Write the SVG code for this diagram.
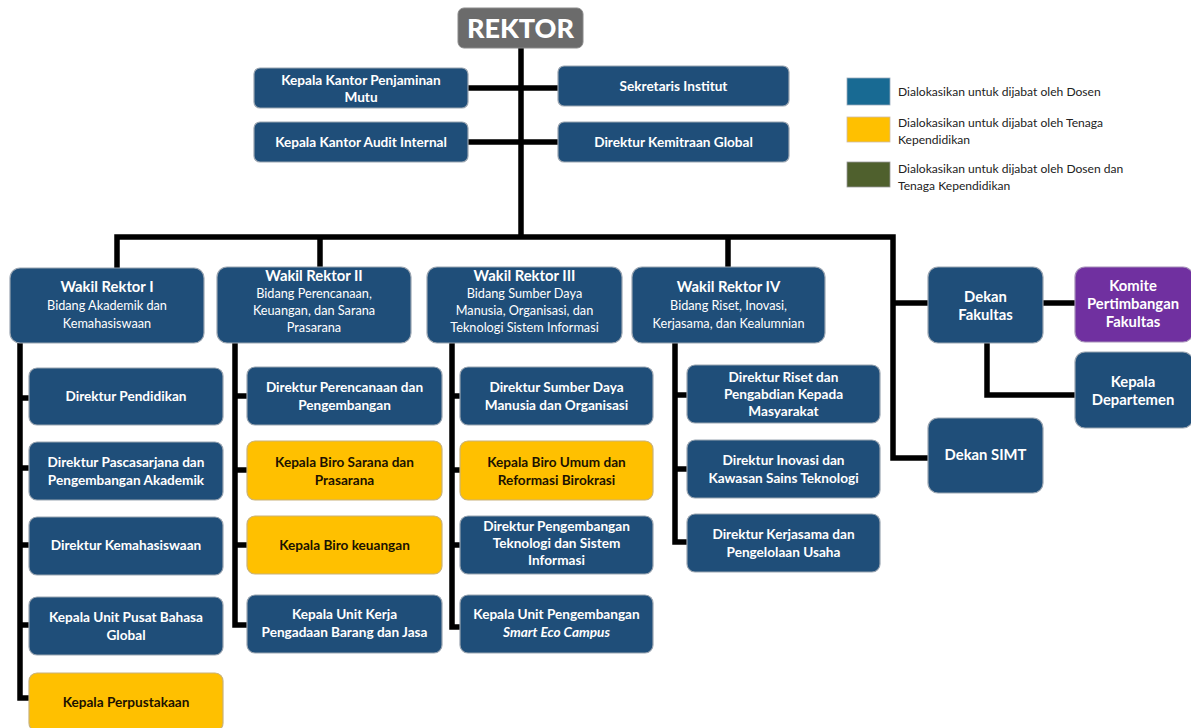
<svg xmlns="http://www.w3.org/2000/svg" width="1191" height="728" viewBox="0 0 1191 728">
<style>
.b{fill:#1F4E79;stroke:#9aa5b1;stroke-width:1.2}
.y{fill:#FFC000;stroke:#c9b27a;stroke-width:1.2}
.p{fill:#7030A0;stroke:#a58fb8;stroke-width:1.2}
.g{fill:#6b6b6b;stroke:#8a8a8a;stroke-width:1}
.t{font-family:Lato,"Open Sans",sans-serif;font-weight:700;font-size:13.6px;fill:#fff;text-anchor:middle}
.td{font-family:Lato,"Open Sans",sans-serif;font-weight:700;font-size:13.6px;fill:#1c1200;text-anchor:middle}
.tl{font-family:Lato,"Open Sans",sans-serif;font-weight:700;font-size:14.8px;fill:#fff;text-anchor:middle}
.ts{font-family:Lato,"Open Sans",sans-serif;font-weight:400;font-size:12.7px;fill:#fff;text-anchor:middle}
.lg{font-family:Lato,"Open Sans",sans-serif;font-weight:400;font-size:12.1px;fill:#222}
.c{fill:none;stroke:#000;stroke-width:5.5;stroke-linejoin:miter}
</style>
<rect width="1191" height="728" fill="#fff"/>
<g id="connectors">
<path class="c" d="M521 48V237"/>
<path class="c" d="M468 88H558M468 142H558"/>
<path class="c" d="M117 268V237H893V458H928M320 237V267M728 237V267M893 303H928"/>
<path class="c" d="M1043 303H1075M987 343V395H1075"/>
<path class="c" d="M20 343V698H29M20 398H29M20 468H29M20 545H29M20 625H29"/>
<path class="c" d="M235 343V625H247M235 396H247M235 470H247M235 545H247"/>
<path class="c" d="M452 343V627H460M452 396H460M452 470H460M452 545H460"/>
<path class="c" d="M675 343V542H687M675 395H687M675 469H687"/>
</g>
<g id="rektor"><rect class="g" x="458" y="8" width="125" height="40" rx="6"/><text x="520.5" y="38" style="font-family:Lato,'Open Sans',sans-serif;font-weight:900;font-size:27px;fill:#fff;text-anchor:middle">REKTOR</text></g>
<g id="kkpm"><rect class="b" x="254" y="68" width="214" height="40" rx="6"/><text class="t" x="361" y="85">Kepala Kantor Penjaminan</text><text class="t" x="361" y="102">Mutu</text></g>
<g id="sekretaris"><rect class="b" x="558" y="66" width="231" height="40" rx="6"/><text class="t" x="673.5" y="91">Sekretaris Institut</text></g>
<g id="audit"><rect class="b" x="254" y="122" width="214" height="40" rx="6"/><text class="t" x="361" y="147">Kepala Kantor Audit Internal</text></g>
<g id="kemitraan"><rect class="b" x="558" y="122" width="231" height="40" rx="6"/><text class="t" x="673.5" y="147">Direktur Kemitraan Global</text></g>
<g id="legend">
<rect x="847" y="78" width="43" height="27" fill="#186A93" stroke="#9ab" stroke-width="0.8"/>
<text class="lg" x="898" y="96">Dialokasikan untuk dijabat oleh Dosen</text>
<rect x="847" y="117" width="43" height="25" fill="#FFC000" stroke="#cba" stroke-width="0.8"/>
<text class="lg" x="898" y="127">Dialokasikan untuk dijabat oleh Tenaga</text>
<text class="lg" x="898" y="144">Kependidikan</text>
<rect x="847" y="162" width="43" height="25" fill="#4F602D" stroke="#999" stroke-width="0.8"/>
<text class="lg" x="898" y="173">Dialokasikan untuk dijabat oleh Dosen dan</text>
<text class="lg" x="898" y="190">Tenaga Kependidikan</text>
</g>
<g id="wr1"><rect class="b" x="10" y="268" width="194" height="75" rx="10"/><text class="tl" x="107" y="292">Wakil Rektor I</text><text class="ts" x="107" y="310">Bidang Akademik dan</text><text class="ts" x="107" y="328">Kemahasiswaan</text></g>
<g id="wr2"><rect class="b" x="217" y="267" width="194" height="76" rx="10"/><text class="tl" x="314" y="281">Wakil Rektor II</text><text class="ts" x="314" y="298">Bidang Perencanaan,</text><text class="ts" x="314" y="315">Keuangan, dan Sarana</text><text class="ts" x="314" y="332">Prasarana</text></g>
<g id="wr3"><rect class="b" x="427" y="267" width="195" height="76" rx="10"/><text class="tl" x="524.5" y="281">Wakil Rektor III</text><text class="ts" x="524.5" y="298">Bidang Sumber Daya</text><text class="ts" x="524.5" y="315">Manusia, Organisasi, dan</text><text class="ts" x="524.5" y="332">Teknologi Sistem Informasi</text></g>
<g id="wr4"><rect class="b" x="632" y="267" width="193" height="76" rx="10"/><text class="tl" x="728.5" y="292">Wakil Rektor IV</text><text class="ts" x="728.5" y="310">Bidang Riset, Inovasi,</text><text class="ts" x="728.5" y="328">Kerjasama, dan Kealumnian</text></g>
<g id="dekan-fakultas"><rect class="b" x="928" y="267" width="115" height="76" rx="10"/><text class="tl" x="985.5" y="302">Dekan</text><text class="tl" x="985.5" y="320">Fakultas</text></g>
<g id="komite"><rect class="p" x="1075" y="267" width="118" height="75" rx="10"/><text class="tl" x="1133" y="291">Komite</text><text class="tl" x="1133" y="309">Pertimbangan</text><text class="tl" x="1133" y="327">Fakultas</text></g>
<g id="kepala-departemen"><rect class="b" x="1075" y="352" width="118" height="76" rx="10"/><text class="tl" x="1133" y="387">Kepala</text><text class="tl" x="1133" y="405">Departemen</text></g>
<g id="dekan-simt"><rect class="b" x="928" y="418" width="115" height="75" rx="10"/><text class="tl" x="985.5" y="460">Dekan SIMT</text></g>
<g id="c1-1"><rect class="b" x="29" y="368" width="194" height="57" rx="8"/><text class="t" x="126" y="401">Direktur Pendidikan</text></g>
<g id="c1-2"><rect class="b" x="29" y="442" width="194" height="58" rx="8"/><text class="t" x="126" y="467">Direktur Pascasarjana dan</text><text class="t" x="126" y="485">Pengembangan Akademik</text></g>
<g id="c1-3"><rect class="b" x="29" y="517" width="194" height="58" rx="8"/><text class="t" x="126" y="550">Direktur Kemahasiswaan</text></g>
<g id="c1-4"><rect class="b" x="29" y="597" width="194" height="58" rx="8"/><text class="t" x="126" y="622">Kepala Unit Pusat Bahasa</text><text class="t" x="126" y="640">Global</text></g>
<g id="c1-5"><rect class="y" x="29" y="673" width="194" height="58" rx="8"/><text class="td" x="126" y="707">Kepala Perpustakaan</text></g>
<g id="c2-1"><rect class="b" x="247" y="367" width="195" height="58" rx="8"/><text class="t" x="344.5" y="392">Direktur Perencanaan dan</text><text class="t" x="344.5" y="410">Pengembangan</text></g>
<g id="c2-2"><rect class="y" x="247" y="441" width="195" height="59" rx="8"/><text class="td" x="344.5" y="467">Kepala Biro Sarana dan</text><text class="td" x="344.5" y="485">Prasarana</text></g>
<g id="c2-3"><rect class="y" x="247" y="516" width="195" height="58" rx="8"/><text class="td" x="344.5" y="550">Kepala Biro keuangan</text></g>
<g id="c2-4"><rect class="b" x="247" y="595" width="195" height="58" rx="8"/><text class="t" x="344.5" y="619">Kepala Unit Kerja</text><text class="t" x="344.5" y="637">Pengadaan Barang dan Jasa</text></g>
<g id="c3-1"><rect class="b" x="460" y="367" width="193" height="58" rx="8"/><text class="t" x="556.5" y="392">Direktur Sumber Daya</text><text class="t" x="556.5" y="410">Manusia dan Organisasi</text></g>
<g id="c3-2"><rect class="y" x="460" y="441" width="193" height="59" rx="8"/><text class="td" x="556.5" y="467">Kepala Biro Umum dan</text><text class="td" x="556.5" y="485">Reformasi Birokrasi</text></g>
<g id="c3-3"><rect class="b" x="460" y="516" width="193" height="58" rx="8"/><text class="t" x="556.5" y="531">Direktur Pengembangan</text><text class="t" x="556.5" y="548">Teknologi dan Sistem</text><text class="t" x="556.5" y="565">Informasi</text></g>
<g id="c3-4"><rect class="b" x="460" y="595" width="193" height="58" rx="8"/><text class="t" x="556.5" y="619">Kepala Unit Pengembangan</text><text class="t" x="556.5" y="637" font-style="italic">Smart Eco Campus</text></g>
<g id="c4-1"><rect class="b" x="687" y="365" width="193" height="58" rx="8"/><text class="t" x="783.5" y="382">Direktur Riset dan</text><text class="t" x="783.5" y="399">Pengabdian Kepada</text><text class="t" x="783.5" y="416">Masyarakat</text></g>
<g id="c4-2"><rect class="b" x="687" y="440" width="193" height="58" rx="8"/><text class="t" x="783.5" y="465">Direktur Inovasi dan</text><text class="t" x="783.5" y="483">Kawasan Sains Teknologi</text></g>
<g id="c4-3"><rect class="b" x="687" y="514" width="193" height="58" rx="8"/><text class="t" x="783.5" y="539">Direktur Kerjasama dan</text><text class="t" x="783.5" y="557">Pengelolaan Usaha</text></g>
</svg>
